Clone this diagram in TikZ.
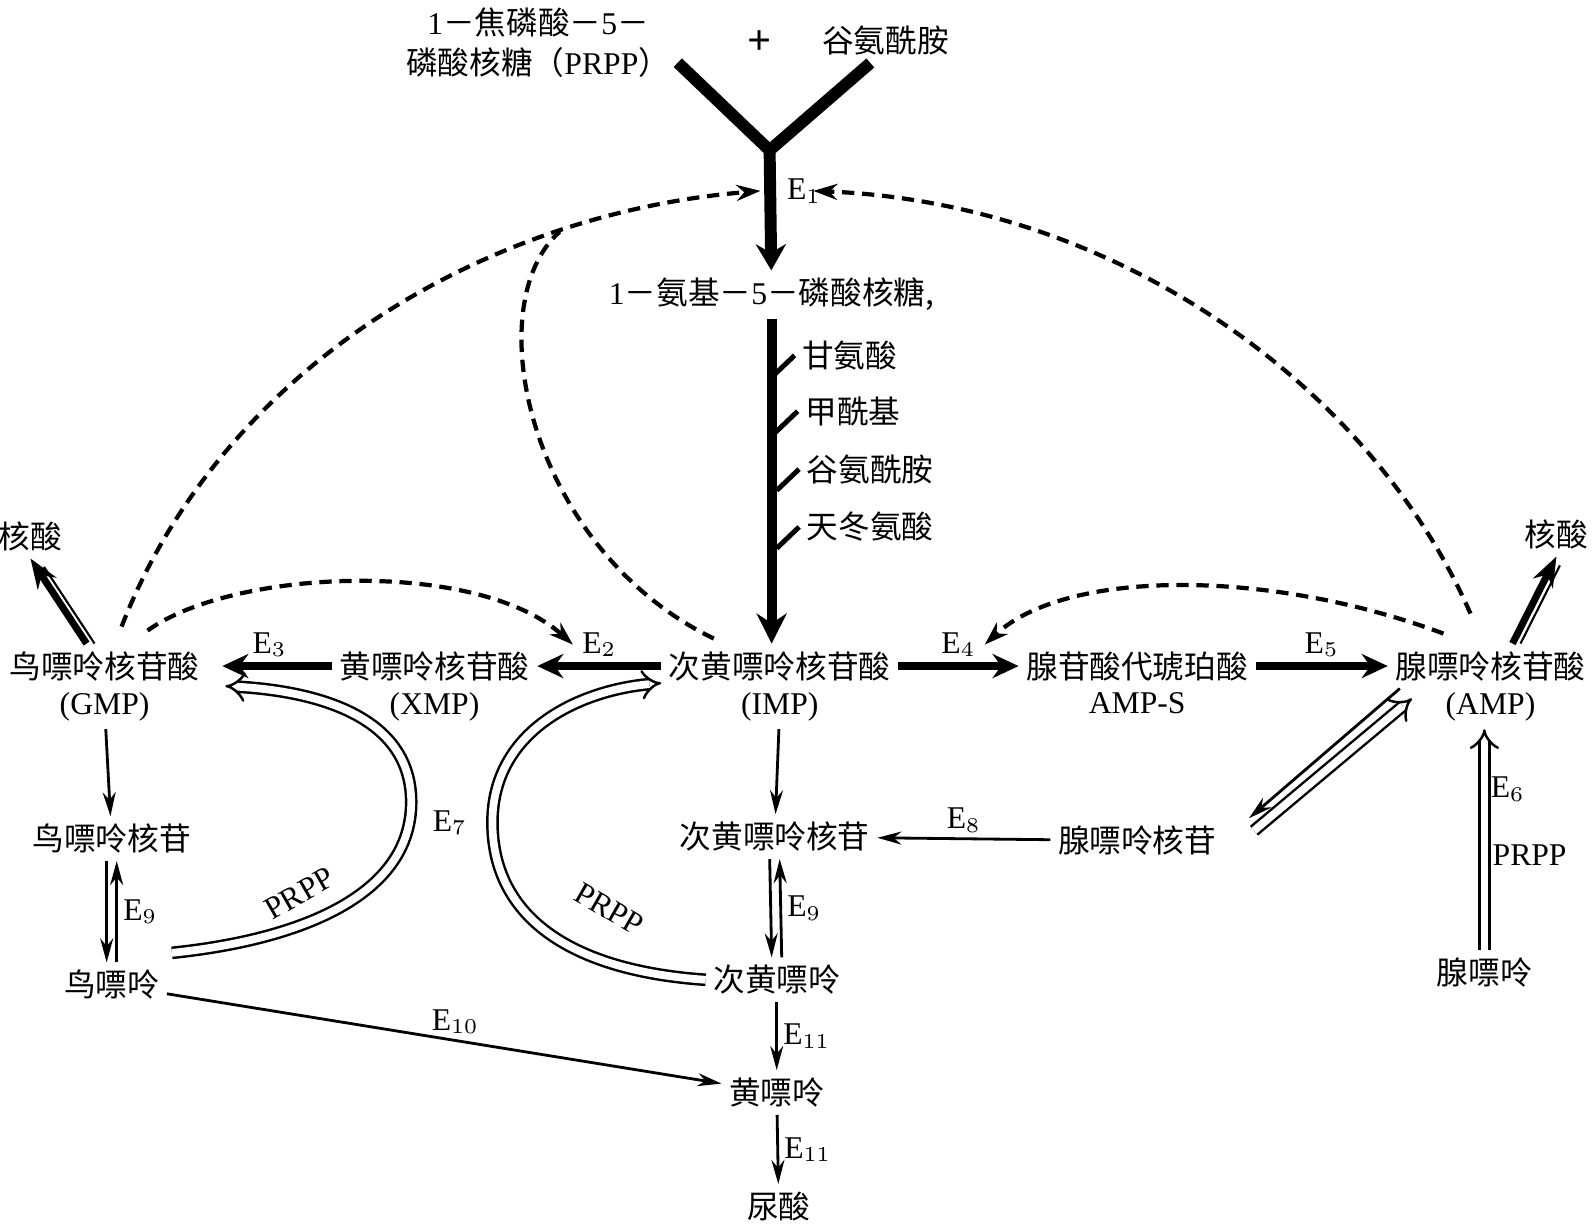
\documentclass[tikz,border=0pt]{standalone}
\usepackage{fontspec}
\setmainfont{Liberation Serif}
\newfontfamily\cjk{Noto Sans CJK SC}
\usetikzlibrary{arrows.meta,positioning}

\begin{document}
\begin{tikzpicture}[
  x=0.010153cm, y=-0.010153cm,
  lbl/.style={font=\cjk\fontsize{9}{11.5}\selectfont, inner sep=2pt, align=center},
  sub/.style={font=\fontsize{9}{11}\selectfont, inner sep=2pt},
  enz/.style={font=\fontsize{9}{11}\selectfont, inner sep=1.5pt},
  thk/.style={line width=2.3pt, -{Stealth[length=2.6mm,width=2.4mm]}},
  thn/.style={line width=0.8pt, -{Stealth[length=2.4mm,width=1.3mm]}},
  dbl/.style={double, double distance=2.2pt, line width=0.7pt, -{Implies}},
  nucl/.style={line width=2pt, -{Stealth[length=3mm,width=2.2mm]}},
  fb/.style={line width=1.2pt, dash pattern=on 3.5pt off 2.2pt, -{Stealth[length=2.4mm,width=1.6mm]}}
]
  \useasboundingbox (0,0) rectangle (1568,1206);

  % starting substances
  \node[lbl] (prpp) at (530,42) {{\rmfamily 1}－焦磷酸－{\rmfamily 5}－\\磷酸核糖（{\rmfamily PRPP}）};
  \node[sub] (plus) at (748,42) {\large\textbf{+}};
  \node[lbl] (gln) at (872,40) {谷氨酰胺};
  \coordinate (yj) at (758,148);
  \node[enz] (e1) at (792,188) {E$_1$};
  \node[lbl] (amr) at (760,290) {{\rmfamily 1}－氨基－{\rmfamily 5}－磷酸核糖,};

  % added groups
  \node[lbl] (gly) at (837,350) {甘氨酸};
  \node[lbl] (fmy) at (840,405) {甲酰基};
  \node[lbl] (gln2) at (857,462) {谷氨酰胺};
  \node[lbl] (asp) at (857,519) {天冬氨酸};

  % nucleotides
  \node[lbl] (gmp) at (103,656) {鸟嘌呤核苷酸};
  \node[sub, below=-1pt of gmp] (gmpb) {(GMP)};
  \node[lbl] (xmp) at (428,656) {黄嘌呤核苷酸};
  \node[sub, below=-1pt of xmp] (xmpb) {(XMP)};
  \node[lbl] (imp) at (768,656) {次黄嘌呤核苷酸};
  \node[sub, below=-1pt of imp] (impb) {(IMP)};
  \node[lbl] (amps) at (1120,656) {腺苷酸代琥珀酸};
  \node[sub, below=-1pt of amps] (ampsb) {AMP-S};
  \node[lbl] (amp) at (1468,656) {腺嘌呤核苷酸};
  \node[sub, below=-1pt of amp] (ampb) {(AMP)};
  \node[lbl] (na1) at (30,528) {核酸};
  \node[lbl] (na2) at (1533,526) {核酸};

  % nucleosides and bases
  \node[lbl] (gr) at (110,826) {鸟嘌呤核苷};
  \node[lbl] (gua) at (110,970) {鸟嘌呤};
  \node[lbl] (hxr) at (763,824) {次黄嘌呤核苷};
  \node[lbl] (hx) at (765,965) {次黄嘌呤};
  \node[lbl] (xan) at (765,1076) {黄嘌呤};
  \node[lbl] (ua) at (767,1188) {尿酸};
  \node[lbl] (ar) at (1120,828) {腺嘌呤核苷};
  \node[lbl] (ade) at (1462,958) {腺嘌呤};
  \node[enz] (e7) at (443,810) {E$_7$};
  \node[sub, rotate=30] (pl1) at (295,880) {PRPP};
  \node[sub, rotate=-30] (pl2) at (600,895) {PRPP};

  % feedback ends at E1
  \coordinate (fbl) at (749,188);
  \coordinate (fbr) at (801,188);

  % de novo route
  \draw[line width=3.4pt] ([yshift=-0.2cm]prpp.east) -- (yj) -- ([xshift=-0.15cm]gln.south);
  \draw[line width=3.4pt, -{Stealth[length=2.6mm,width=3mm]}] (yj) -- (amr);
  \draw[line width=2.8pt, -{Stealth[length=3mm,width=3mm]}] (amr) -- (amr |- imp.north);
  \foreach \n in {gly,fmy,gln2,asp}
    \draw[line width=1.4pt] (\n.west) -- ++(-22,21);

  % main row
  \draw[thk] (imp) -- node[enz, above] (e2) {E$_2$} (xmp);
  \draw[thk, shorten >=0.15cm] (xmp) -- node[enz, above] (e3) {E$_3$} (gmp);
  \draw[thk] (imp) -- node[enz, above] (e4) {E$_4$} (amps);
  \draw[thk] (amps) -- node[enz, above] (e5) {E$_5$} (amp);

  % to nucleic acid
  \draw[nucl] ([xshift=-0.18cm]gmp.north) -- (na1.south);
  \draw[line width=0.6pt, shorten >=0.1cm, transform canvas={xshift=0.08cm}] ([xshift=-0.18cm]gmp.north) -- (na1.south);
  \draw[nucl] ([xshift=0.22cm]amp.north) -- (na2.south);
  \draw[line width=0.6pt, shorten >=0.1cm, transform canvas={xshift=0.08cm}] ([xshift=0.22cm]amp.north) -- (na2.south);

  % feedback
  \draw[fb] ([xshift=0.17cm,yshift=0.17cm]gmp.north) .. controls (220,360) and (480,210) .. (fbl) coordinate[pos=0.75] (jn);
  \draw[fb, -] ([xshift=-0.66cm,yshift=0.05cm]imp.north) .. controls (520,540) and (470,300) .. (jn);
  \draw[fb] ([xshift=-0.2cm,yshift=0.3cm]amp.north) .. controls (1350,380) and (1100,200) .. (fbr);
  \draw[fb] ([xshift=0.43cm,yshift=0.13cm]gmp.north) .. controls (230,560) and (470,550) .. (e2.west);
  \draw[fb] ([xshift=-0.47cm,yshift=0.1cm]amp.north) .. controls (1250,560) and (1050,560) .. (e4.east);

  % breakdown
  \draw[thn] (gmpb) -- (gr);
  \draw[thn] ([xshift=-0.05cm]gr.south) -- ([xshift=-0.05cm]gua.north);
  \draw[thn] ([xshift=0.05cm]gua.north) -- node[enz, right] (e9a) {E$_9$} ([xshift=0.05cm]gr.south);
  \draw[thn] (gua) -- node[enz, above, pos=0.52] (e10) {E$_{10}$} (xan);
  \draw[thn] (impb) -- (hxr);
  \draw[thn] ([xshift=-0.05cm]hxr.south) -- ([xshift=-0.05cm]hx.north);
  \draw[thn] ([xshift=0.05cm]hx.north) -- node[enz, right] (e9b) {E$_9$} ([xshift=0.05cm]hxr.south);
  \draw[thn] (hx) -- node[enz, right] (e11a) {E$_{11}$} (xan);
  \draw[thn] (xan) -- node[enz, right] (e11b) {E$_{11}$} (ua);
  \draw[thn] (ar) -- node[enz, above] (e8) {E$_8$} (hxr);

  % adenosine / adenine
  \draw[thn] ([xshift=0.12cm]amp.south west) -- ([xshift=0.25cm]ar.north east);
  \draw[dbl] ([xshift=0.3cm,yshift=0.1cm]ar.east) -- ([xshift=0.24cm,yshift=-0.1cm]amp.south west);
  \draw[dbl] (ade) -- node[enz, right, pos=0.73] (e6) {E$_6$} node[sub, right, pos=0.43] (pl3) {PRPP} (ade |- ampb.south);

  % salvage with PRPP
  \draw[dbl] ([xshift=0.05cm,yshift=0.32cm]gua.east) .. controls (300,925) and (405,880) .. (405,790)
    .. controls (405,700) and (300,680) .. ([xshift=0.18cm,yshift=-0.2cm]gmp.east);
  \draw[dbl] (hx.west) .. controls (550,955) and (485,895) .. (485,810)
    .. controls (485,720) and (570,680) .. ([yshift=-0.17cm]imp.west);

\end{tikzpicture}
\end{document}
